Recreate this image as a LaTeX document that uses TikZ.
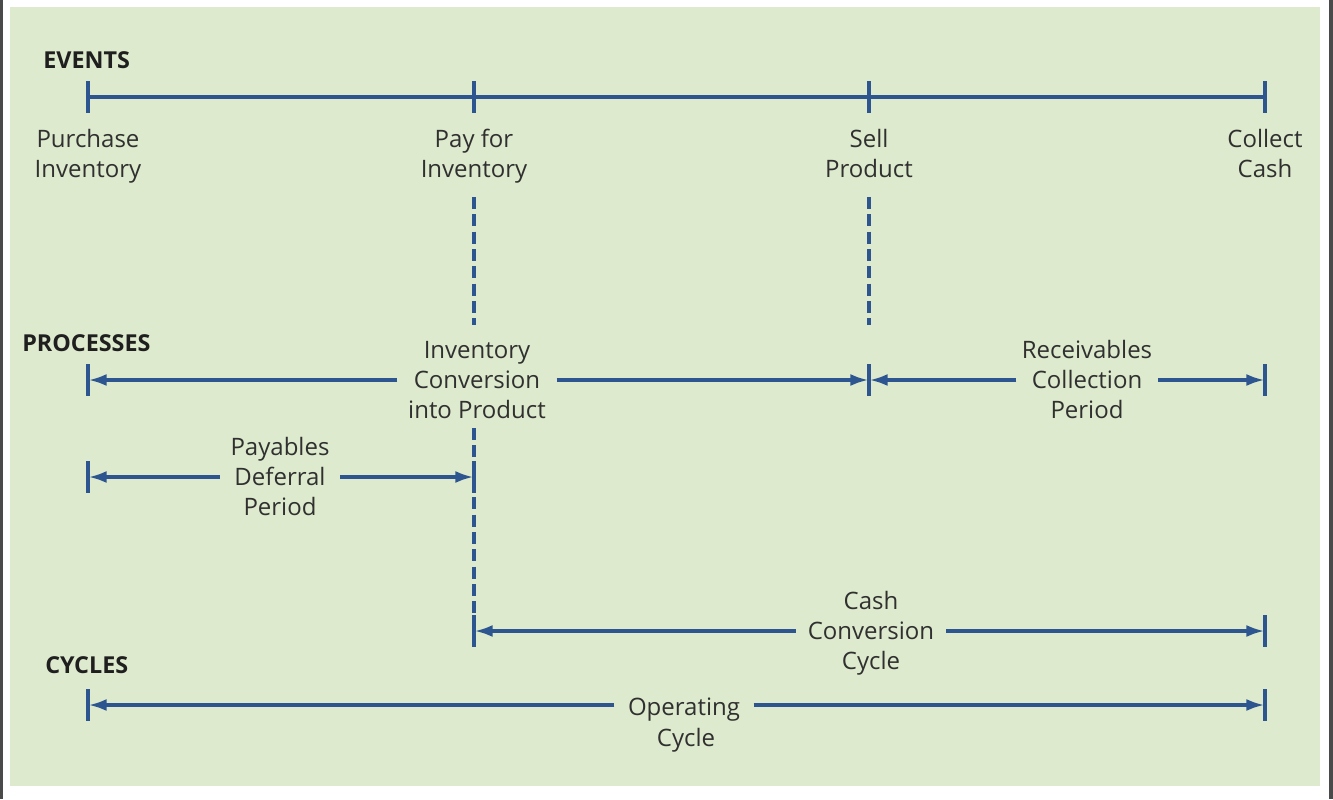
\documentclass[tikz,border=0pt]{standalone}
\usepackage{fontspec}
\setmainfont{Open Sans}
\usetikzlibrary{arrows.meta}
\definecolor{panel}{HTML}{DDEACD}
\definecolor{rule}{HTML}{2D5691}
\definecolor{ink}{HTML}{303030}
\definecolor{headink}{HTML}{1F1F1F}
\definecolor{edge}{HTML}{4A4A4A}

\begin{document}
\begin{tikzpicture}[x=0.75pt,y=-0.75pt,
  lbl/.style={text=ink,font=\fontsize{18}{22.5}\selectfont,align=center,inner xsep=8pt,inner ysep=0pt,
    yshift=-3pt,execute at begin node=\strut,execute at end node=\strut},
  heading/.style={text=headink,font=\bfseries\fontsize{17.5}{20}\selectfont,anchor=west,inner sep=0pt},
  bar/.style={draw=rule,line width=2.8pt},
  tickmark/.style={draw=rule,line width=2.8pt},
  arr/.style={draw=rule,line width=2.8pt,-{Latex[length=14pt,width=9pt]}},
  guide/.style={draw=rule,line width=2.3pt,dash pattern=on 9pt off 4pt}]

% page and panel
\useasboundingbox (0,0) rectangle (1333,799);
\fill[white] (0,0) rectangle (1333,799);
\fill[edge] (0,0) rectangle (3,799);
\fill[edge] (1329,0) rectangle (1333,799);
\fill[panel] (10,7) rectangle (1320,786);

% section headings
\node[heading] (hev) at (43,60) {EVENTS};
\node[heading] (hpr) at (22,343) {PROCESSES};
\node[heading] (hcy) at (45,665) {CYCLES};

% events timeline
\coordinate (e1) at (88,97);
\coordinate (e2) at (474,97);
\coordinate (e3) at (869,97);
\coordinate (e4) at (1265,97);
\draw[bar] (e1) -- (e4);
\foreach \c in {e1,e2,e3,e4} \draw[tickmark] (\c) ++(0,-16) -- ++(0,32);

\node[lbl] (ev1) at (88,154) {Purchase\\Inventory};
\node[lbl] (ev2) at (474,154) {Pay for\\Inventory};
\node[lbl] (ev3) at (869,154) {Sell\\Product};
\node[lbl] (ev4) at (1265,154) {Collect\\Cash};

% dashed guides
\coordinate (g1a) at (474,197);
\coordinate (g1b) at (474,325);
\coordinate (g2a) at (869,197);
\coordinate (g2b) at (869,325);
\coordinate (g3a) at (474,428);
\coordinate (g3b) at (474,615);
\draw[guide] (g1a) -- (g1b);
\draw[guide] (g2a) -- (g2b);
\draw[guide] (g3a) -- (g3b);

% processes
\coordinate (p1) at (88,380);
\coordinate (p2) at (869,380);
\coordinate (p3) at (1265,380);
\node[lbl] (icp) at (477,380) {Inventory\\Conversion\\into Product};
\node[lbl,inner xsep=4pt] (rcp) at (1087,380) {Receivables\\Collection\\Period};
\draw[arr] (icp.west |- p1) -- (p1);
\draw[arr] (icp.east |- p2) -- (p2);
\draw[arr] (rcp.west |- p2) -- (p2);
\draw[arr] (rcp.east |- p3) -- (p3);

\coordinate (q1) at (88,477);
\coordinate (q2) at (474,477);
\node[lbl] (pdp) at (280,477) {Payables\\Deferral\\Period};
\draw[arr] (pdp.west |- q1) -- (q1);
\draw[arr] (pdp.east |- q2) -- (q2);

% cycles
\coordinate (c1) at (474,631);
\coordinate (c2) at (1265,631);
\node[lbl,inner xsep=9pt] (ccc) at (871,631) {Cash\\Conversion\\Cycle};
\draw[arr] (ccc.west |- c1) -- (c1);
\draw[arr] (ccc.east |- c2) -- (c2);

\coordinate (o1) at (88,705);
\coordinate (o2) at (1265,705);
\node[lbl,inner xsep=10pt] (opc) at (684,705) {Operating};
\node[lbl] (opc2) at (686,736) {Cycle};
\draw[arr] (opc.west |- o1) -- (o1);
\draw[arr] (opc.east |- o2) -- (o2);

\foreach \c in {p1,p2,p3,q1,q2,c1,c2,o1,o2} \draw[tickmark] (\c) ++(0,-16) -- ++(0,32);
\end{tikzpicture}
\end{document}
